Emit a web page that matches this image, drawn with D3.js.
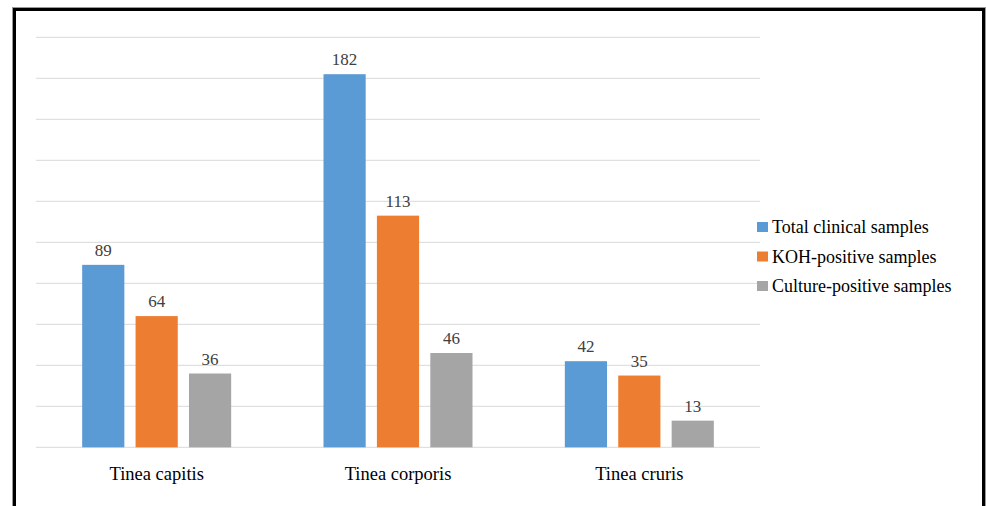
<!DOCTYPE html>
<html>
<head>
<meta charset="utf-8">
<script src="https://cdn.jsdelivr.net/npm/d3@7"></script>
<style>
  body { margin: 0; background: #fff; }
  text { font-family: "Palatino Linotype", "Book Antiqua", Palatino, "Liberation Serif", serif; }
</style>
</head>
<body>
<script>
// chart data
var categories = ["Tinea capitis", "Tinea corporis", "Tinea cruris"];
var seriesNames = ["Total clinical samples", "KOH-positive samples", "Culture-positive samples"];
var totalSamples = [89, 182, 42];
var kohPositive = [64, 113, 35];
var culturePositive = [36, 46, 13];
var yTicks = [0, 20, 40, 60, 80, 100, 120, 140, 160, 180, 200];
var colors = ["#5B9BD5", "#ED7D31", "#A5A5A5"];

var svgWidth = 986;
var svgHeight = 506;

var svg = d3.select("body")
    .append("svg")
    .attr("width", svgWidth)
    .attr("height", svgHeight);

// frame around the whole picture
svg.append("rect")
    .attr("x", 12.5).attr("y", 7.5)
    .attr("width", 973).attr("height", 540)
    .attr("fill", "none").attr("stroke", "#999").attr("stroke-width", 1);
svg.append("rect")
    .attr("x", 14.5).attr("y", 9.5)
    .attr("width", 969).attr("height", 540)
    .attr("fill", "none").attr("stroke", "#000").attr("stroke-width", 3);

var plotLeft = 36, plotRight = 760, plotTop = 37.3, plotBottom = 447.3;

var data = categories.map(function(c, i) {
    return { cat: c, values: [totalSamples[i], kohPositive[i], culturePositive[i]] };
});

var x0 = d3.scaleBand()
    .domain(categories)
    .range([plotLeft, plotRight])
    .padding(0);

var x1 = d3.scaleBand()
    .domain(d3.range(seriesNames.length))
    .range([x0.bandwidth() / 2 - 74.5, x0.bandwidth() / 2 + 74.5])
    .paddingInner(0.21)
    .paddingOuter(0);

var y = d3.scaleLinear()
    .domain([0, 200])
    .range([plotBottom, plotTop]);

// gridlines
svg.append("g")
    .attr("class", "grid")
    .selectAll("line")
    .data(yTicks)
    .enter()
    .append("line")
    .attr("x1", plotLeft).attr("x2", plotRight)
    .attr("y1", function(d) { return y(d); })
    .attr("y2", function(d) { return y(d); })
    .attr("stroke", "#D9D9D9")
    .attr("stroke-width", 1);

// bar groups
var groups = svg.selectAll(".group")
    .data(data)
    .enter()
    .append("g")
    .attr("class", "group")
    .attr("transform", function(d) { return "translate(" + x0(d.cat) + ",0)"; });

groups.selectAll("rect")
    .data(function(d) { return d.values; })
    .enter()
    .append("rect")
    .attr("x", function(d, i) { return x1(i); })
    .attr("y", function(d) { return y(d); })
    .attr("width", x1.bandwidth())
    .attr("height", function(d) { return y(0) - y(d); })
    .attr("fill", function(d, i) { return colors[i]; });

// value labels
groups.selectAll(".val")
    .data(function(d) { return d.values; })
    .enter()
    .append("text")
    .attr("class", "val")
    .attr("x", function(d, i) { return x1(i) + x1.bandwidth() / 2; })
    .attr("y", function(d) { return y(d) - 9; })
    .attr("text-anchor", "middle")
    .attr("font-size", "17px")
    .attr("fill", "#404040")
    .text(function(d) { return d; });

// category axis
var xAxis = d3.axisBottom(x0).tickSize(0).tickPadding(0);
var axisG = svg.append("g")
    .attr("transform", "translate(0," + plotBottom + ")")
    .call(xAxis);
axisG.select(".domain").remove();
axisG.selectAll("text")
    .attr("dy", null)
    .attr("y", 33)
    .attr("font-size", "18.5px")
    .attr("fill", "#000");

// legend
var legend = svg.append("g")
    .attr("transform", "translate(757,222)");
var items = legend.selectAll("g")
    .data(seriesNames)
    .enter()
    .append("g")
    .attr("transform", function(d, i) { return "translate(0," + (i * 29.5) + ")"; });
items.append("rect")
    .attr("width", 11).attr("height", 10)
    .attr("fill", function(d, i) { return colors[i]; });
items.append("text")
    .attr("x", 15)
    .attr("y", 11)
    .attr("font-size", "18px")
    .attr("fill", "#000")
    .text(function(d) { return d; });
</script>
</body>
</html>
